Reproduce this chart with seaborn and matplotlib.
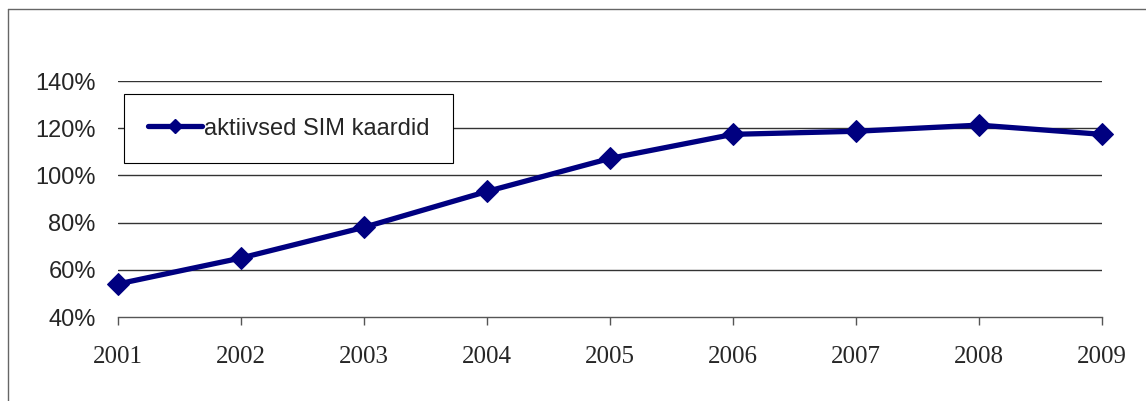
import seaborn as sns
import pandas as pd
import matplotlib.pyplot as plt
from matplotlib.lines import Line2D

years = [2001, 2002, 2003, 2004, 2005, 2006, 2007, 2008, 2009]
sim_cards = [54.0, 65.0, 78.0, 93.2, 107.2, 117.4, 118.7, 121.3, 117.4]
y_ticks = [40, 60, 80, 100, 120, 140]
series_name = "aktiivsed SIM kaardid"

sns.set_style("white")
navy = "#000080"

data = pd.DataFrame({"year": years, "value": sim_cards})

fig = plt.figure(figsize=(11.46, 4.01), dpi=100)
ax = fig.add_axes([118 / 1146, 1 - 317 / 401, (1102 - 118) / 1146, (317 - 81) / 401])

for t in y_ticks[1:]:
    ax.axhline(t, color="#333333", lw=1, zorder=0)

sns.lineplot(data=data, x="year", y="value", ax=ax, color=navy, lw=3.8,
             marker="D", markersize=11, markeredgecolor=navy, clip_on=False, zorder=3)

ax.set_xlim(years[0], years[-1])
ax.set_ylim(40, 140)
ax.set_xticks(years)
ax.set_xticklabels([str(y) for y in years], family="Liberation Serif", fontsize=18)
ax.set_yticks(y_ticks)
ax.set_yticklabels([f"{t}%" for t in y_ticks], family="Liberation Sans", fontsize=17)
ax.set_xlabel("")
ax.set_ylabel("")
for s in ["left", "right", "top"]:
    ax.spines[s].set_visible(False)
ax.spines["bottom"].set_color("#555555")
ax.spines["bottom"].set_linewidth(1)
ax.tick_params(axis="x", direction="out", length=6, width=1, color="#555555", pad=15, bottom=True)
ax.tick_params(axis="y", length=0, pad=16)

handle = Line2D([], [], color=navy, lw=3.8, marker="D", markersize=7)
leg = ax.legend([handle], [series_name], loc="upper left", bbox_to_anchor=(6 / 984, 1 - 13 / 236),
                frameon=True, fancybox=False, borderpad=1.0, handlelength=2.3, handletextpad=0.1,
                borderaxespad=0, prop={"family": "Liberation Sans", "size": 17})
leg.get_frame().set_edgecolor("black")
leg.get_frame().set_linewidth(0.8)
leg.get_frame().set_alpha(1)

fig.add_artist(Line2D([8 / 1146, 8 / 1146], [0, 1 - 9 / 401], color="#666666", lw=1))
fig.add_artist(Line2D([8 / 1146, 1], [1 - 9 / 401, 1 - 9 / 401], color="#666666", lw=1))

fig.savefig("out.png", dpi=100)
